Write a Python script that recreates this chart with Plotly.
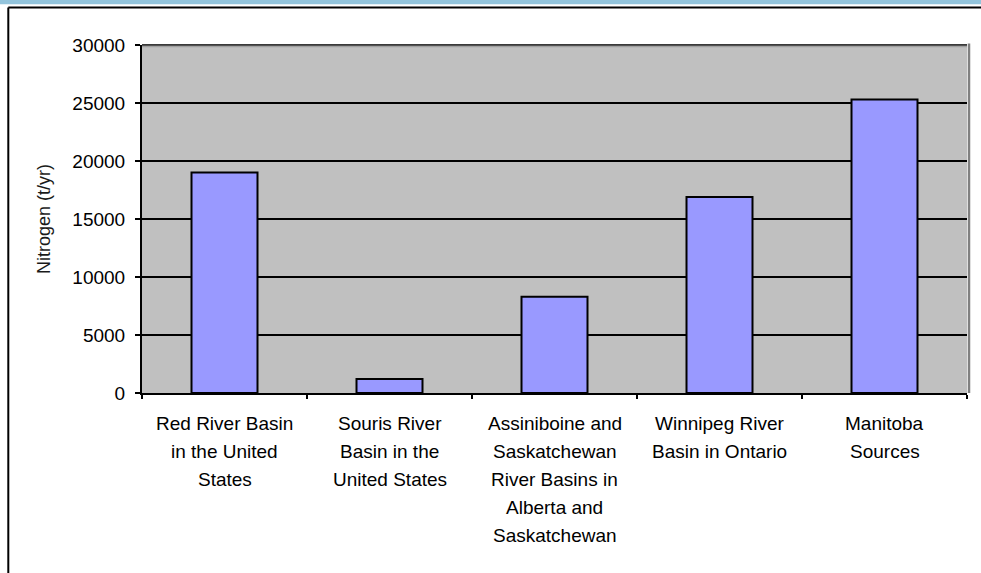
import plotly.graph_objects as go

# Nitrogen loading by source region
regions = ["Red River Basin in the United States",
           "Souris River Basin in the United States",
           "Assiniboine and Saskatchewan River Basins in Alberta and Saskatchewan",
           "Winnipeg River Basin in Ontario",
           "Manitoba Sources"]
label_lines = [["Red River Basin", "in the United", "States"],
               ["Souris River", "Basin in the", "United States"],
               ["Assiniboine and", "Saskatchewan", "River Basins in", "Alberta and", "Saskatchewan"],
               ["Winnipeg River", "Basin in Ontario"],
               ["Manitoba", "Sources"]]
nitrogen = [19000, 1200, 8300, 16900, 25300]
y_ticks = [0, 5000, 10000, 15000, 20000, 25000, 30000]

W, H = 981, 573
L, R, T, B = 142, 967, 45, 393
FONT = "Liberation Sans, Arial, sans-serif"


def px_x(p):
    return (p - L) / (R - L)


def px_y(p):
    return (B - p) / (B - T)


fig = go.Figure(go.Bar(
    x=regions, y=nitrogen, width=0.4,
    marker=dict(color="#9999ff", line=dict(color="#000000", width=2)),
))

annotations = []
for reg, lines in zip(regions, label_lines):
    for j, line in enumerate(lines):
        annotations.append(dict(
            x=reg, xref="x", y=0, yref="paper", yanchor="middle",
            yshift=-(30 + 28.2 * j), text=line, showarrow=False,
            font=dict(family=FONT, size=19, color="#000000")))
annotations.append(dict(
    x=px_x(44), xref="paper", y=0.5, yref="paper", xanchor="center",
    yanchor="middle", textangle=-90, text="Nitrogen (t/yr)", showarrow=False,
    font=dict(family=FONT, size=18, color="#1a1a1a")))

shapes = [
    # blue band along the top of the page
    dict(type="rect", xref="paper", yref="paper", x0=px_x(0), x1=px_x(W),
         y0=px_y(0), y1=px_y(4.2), fillcolor="#93c4dc", line=dict(width=0), layer="below"),
    # outer frame (top and left)
    dict(type="line", xref="paper", yref="paper", x0=px_x(8.3), x1=px_x(W),
         y0=px_y(7.5), y1=px_y(7.5), line=dict(color="#000000", width=2)),
    dict(type="line", xref="paper", yref="paper", x0=px_x(8.3), x1=px_x(8.3),
         y0=px_y(7.5), y1=px_y(H), line=dict(color="#000000", width=2)),
    # plot-area edge: dark top line with a soft shadow, grey right edge
    dict(type="line", xref="paper", yref="paper", x0=0, x1=1, y0=1, y1=1,
         line=dict(color="#3a3a3a", width=2)),
    dict(type="line", xref="paper", yref="paper", x0=0, x1=1,
         y0=px_y(46.5), y1=px_y(46.5), line=dict(color="#a0a0a0", width=1.5)),
    dict(type="line", xref="paper", yref="paper", x0=px_x(969), x1=px_x(969),
         y0=px_y(43.5), y1=0, line=dict(color="#808080", width=2.5)),
]

fig.update_layout(
    width=W, height=H,
    margin=dict(l=L, r=W - R, t=T, b=H - B),
    paper_bgcolor="#ffffff", plot_bgcolor="#c0c0c0",
    showlegend=False, bargap=0.6,
    font=dict(family=FONT, size=19, color="#000000"),
    annotations=annotations, shapes=shapes,
    xaxis=dict(showticklabels=False, tickson="boundaries", ticks="outside",
               ticklen=4, tickwidth=2, tickcolor="#000000",
               showline=True, linecolor="#000000", linewidth=2,
               showgrid=False, zeroline=False, fixedrange=True),
    yaxis=dict(range=[0, 30000], tickvals=y_ticks,
               ticktext=[str(v) for v in y_ticks],
               ticks="outside", ticklen=5, tickwidth=2, tickcolor="#000000",
               ticklabelstandoff=6,
               tickfont=dict(family=FONT, size=19, color="#000000"),
               showline=True, linecolor="#000000", linewidth=2,
               showgrid=True, gridcolor="#000000", gridwidth=2,
               zeroline=False, fixedrange=True),
)

fig.write_html("out.html", config={"displayModeBar": False})
